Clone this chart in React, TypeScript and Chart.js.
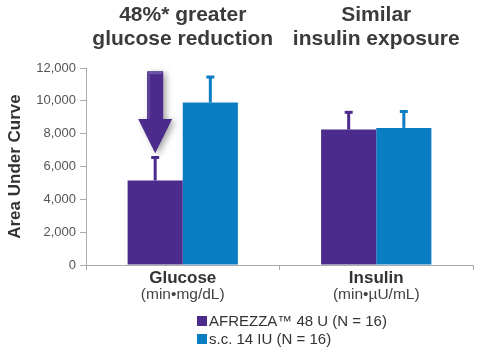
import React, { useEffect, useRef } from "react";
import { Chart, registerables } from "chart.js";

Chart.register(...registerables);

const categories = ["Glucose", "Insulin"];
const categoryUnits = ["(min•mg/dL)", "(min•µU/mL)"];
const headlines = [
  ["48%* greater", "glucose reduction"],
  ["Similar", "insulin exposure"],
];
const seriesLabels = ["AFREZZA™ 48 U (N = 16)", "s.c. 14 IU (N = 16)"];
const afrezzaValues = [5150, 8250];
const afrezzaErrorTop = [6550, 9300];
const scValues = [9900, 8350];
const scErrorTop = [11450, 9350];
const yTicks = [0, 2000, 4000, 6000, 8000, 10000, 12000];
const arrowValues = { top: 11800, headBase: 8900, tip: 6800 };

const PURPLE = "#4b2b8b";
const BLUE = "#0b7ec3";
const FONT = "'Liberation Sans', Arial, sans-serif";

const overlayPlugin = {
  id: "overlay",
  afterDatasetsDraw(chart: any) {
    const ctx = chart.ctx;
    const x = chart.scales.x;
    const y = chart.scales.y;
    const errs = [afrezzaErrorTop, scErrorTop];
    const vals = [afrezzaValues, scValues];
    const cols = [PURPLE, BLUE];
    // error bars
    for (let d = 0; d < 2; d++) {
      const meta = chart.getDatasetMeta(d);
      meta.data.forEach((bar: any, i: number) => {
        const bx = bar.x;
        const y0 = y.getPixelForValue(vals[d][i]);
        const y1 = y.getPixelForValue(errs[d][i]);
        ctx.save();
        ctx.strokeStyle = cols[d];
        ctx.lineWidth = 3;
        ctx.beginPath();
        ctx.moveTo(bx, y0);
        ctx.lineTo(bx, y1);
        ctx.stroke();
        ctx.beginPath();
        ctx.moveTo(bx - 4, y1);
        ctx.lineTo(bx + 4, y1);
        ctx.stroke();
        ctx.restore();
      });
    }
    // arrow over the glucose AFREZZA bar
    const bar0 = chart.getDatasetMeta(0).data[0];
    const cx = bar0.x;
    const yt = y.getPixelForValue(arrowValues.top);
    const yb = y.getPixelForValue(arrowValues.headBase);
    const ytip = y.getPixelForValue(arrowValues.tip);
    const sw = 8;
    const hw = 17;
    ctx.save();
    ctx.shadowColor = "rgba(0,0,0,0.35)";
    ctx.shadowBlur = 6;
    ctx.shadowOffsetX = 3;
    ctx.shadowOffsetY = 2;
    ctx.fillStyle = PURPLE;
    ctx.beginPath();
    ctx.moveTo(cx - sw, yt);
    ctx.lineTo(cx + sw, yt);
    ctx.lineTo(cx + sw, yb);
    ctx.lineTo(cx + hw, yb);
    ctx.lineTo(cx, ytip);
    ctx.lineTo(cx - hw, yb);
    ctx.lineTo(cx - sw, yb);
    ctx.closePath();
    ctx.fill();
    ctx.restore();
    // bevel top face
    ctx.save();
    ctx.fillStyle = "#6d55a8";
    ctx.beginPath();
    ctx.moveTo(cx - sw, yt + 3);
    ctx.lineTo(cx - sw + 3, yt);
    ctx.lineTo(cx + sw, yt);
    ctx.lineTo(cx + sw - 2, yt + 3);
    ctx.closePath();
    ctx.fill();
    ctx.fillStyle = "#5d419b";
    ctx.fillRect(cx - sw, yt + 3, 3, yb - yt - 3);
    ctx.restore();

    // headlines
    ctx.save();
    ctx.fillStyle = "#3b3b3b";
    ctx.font = `bold 21px ${FONT}`;
    ctx.textAlign = "center";
    ctx.textBaseline = "middle";
    headlines.forEach((lines, i) => {
      const px = x.getPixelForValue(i);
      ctx.fillText(lines[0], px, 15);
      ctx.fillText(lines[1], px, 39);
    });
    // category labels
    categories.forEach((c, i) => {
      const px = x.getPixelForValue(i);
      ctx.font = `bold 17px ${FONT}`;
      ctx.fillStyle = "#333";
      ctx.fillText(c, px, 278);
      ctx.font = `15.5px ${FONT}`;
      ctx.fillStyle = "#444";
      ctx.fillText(categoryUnits[i], px, 295);
    });
    // legend
    ctx.textAlign = "left";
    ctx.font = `15px ${FONT}`;
    seriesLabels.forEach((lab, i) => {
      const cy = 321 + i * 18;
      ctx.fillStyle = cols[i];
      ctx.fillRect(197, cy - 5, 10, 10);
      ctx.fillStyle = "#333";
      ctx.fillText(lab, 209, cy + 1);
    });
    ctx.restore();
  },
};

export default function App() {
  const ref = useRef<HTMLCanvasElement>(null);
  useEffect(() => {
    if (!ref.current) return;
    const chart = new Chart(ref.current, {
      type: "bar",
      data: {
        labels: categories,
        datasets: [
          { label: seriesLabels[0], data: afrezzaValues, backgroundColor: PURPLE },
          { label: seriesLabels[1], data: scValues, backgroundColor: BLUE },
        ],
      },
      options: {
        responsive: false,
        animation: false,
        layout: { padding: { top: 68, right: 14, bottom: 0, left: 0 } },
        plugins: { legend: { display: false }, tooltip: { enabled: false } },
        datasets: { bar: { categoryPercentage: 0.57, barPercentage: 1 } },
        scales: {
          x: {
            ticks: { display: false },
            grid: { drawOnChartArea: false, drawTicks: true, tickLength: 5, color: "#aaa", offset: true },
            border: { color: "#aaa", width: 1 },
            afterFit: (s: any) => { s.height = 92; },
          },
          y: {
            min: 0,
            max: 12000,
            afterBuildTicks: (s: any) => { s.ticks = yTicks.map((v) => ({ value: v })); },
            ticks: {
              padding: 4,
              color: "#555",
              font: { family: FONT, size: 13 },
              callback: (v: any) => Number(v).toLocaleString("en-US"),
            },
            grid: { drawOnChartArea: false, drawTicks: true, tickLength: 6, color: "#aaa" },
            border: { color: "#aaa", width: 1 },
            title: {
              display: true,
              text: "Area Under Curve",
              color: "#333",
              font: { family: FONT, size: 17, weight: "bold" },
              padding: { top: 5, bottom: 0 },
            },
            afterFit: (s: any) => { s.width = 86; },
          },
        },
      },
      plugins: [overlayPlugin],
    });
    return () => chart.destroy();
  }, []);
  return (
    <div style={{ position: "fixed", left: 0, top: 0, width: 487, height: 357, background: "#fff" }}>
      <canvas ref={ref} width={487} height={357} />
    </div>
  );
}
